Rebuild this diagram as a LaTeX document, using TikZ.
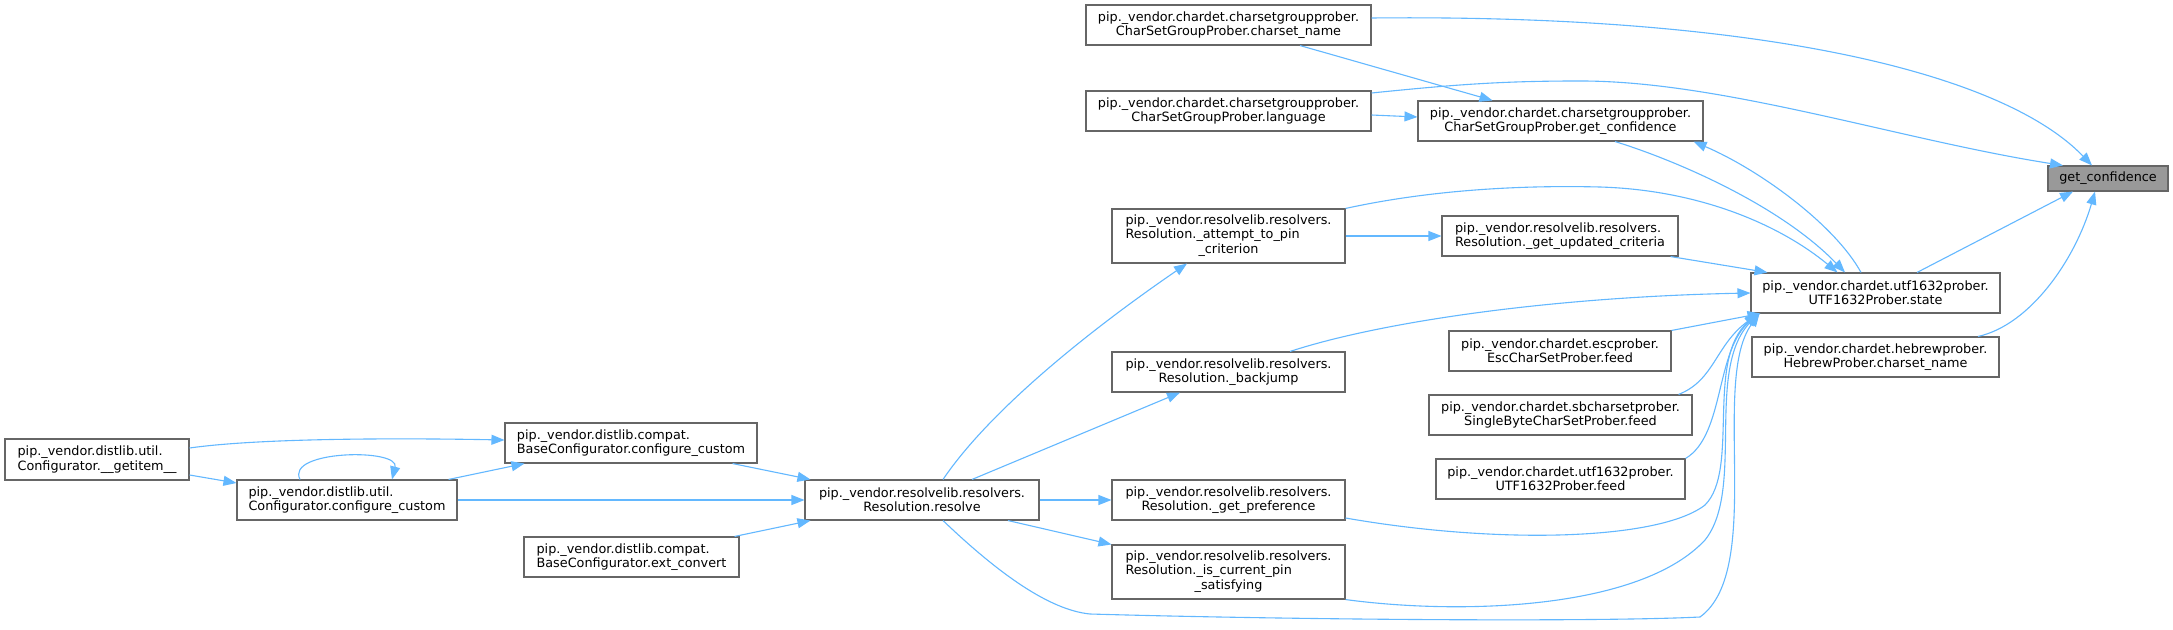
\documentclass[tikz,border=0pt]{standalone}
\usepackage{fontspec}
\setmainfont{DejaVu Sans}
\usetikzlibrary{arrows.meta}
\definecolor{edgeblue}{HTML}{63B8FF}
\definecolor{boxgrey}{HTML}{666666}
\definecolor{mainfill}{HTML}{999999}
\begin{document}
\begin{tikzpicture}[x=1pt,y=-1pt,
    fn/.style={draw=boxgrey,fill=white,line width=1.1pt,inner sep=0pt,minimum height=40pt,
      font=\fontsize{12.8}{14.3}\selectfont,align=center},
    fnl/.style={fn,align=left},
    call/.style={draw=edgeblue,line width=1.1pt,-{Triangle[length=13pt,width=10pt]}}]
\fill[white] (0,0) rectangle (2173,629);
\useasboundingbox (0,0) rectangle (2173,629);

% nodes, one column per rank
\node[fn,fill=mainfill,minimum width=120pt,minimum height=25pt] (getconf) at (2108,178.5) {get\_confidence};
\node[fn,minimum width=249pt] (state) at (1875.5,293) {pip.\_vendor.chardet.utf1632prober.\\UTF1632Prober.state};
\node[fn,minimum width=247pt] (hebrew) at (1875.5,357) {pip.\_vendor.chardet.hebrewprober.\\HebrewProber.charset\_name};
\node[fn,minimum width=285pt] (csgconf) at (1560.5,121) {pip.\_vendor.chardet.charsetgroupprober.\\CharSetGroupProber.get\_confidence};
\node[fnl,minimum width=236pt] (updcrit) at (1560,236) {pip.\_vendor.resolvelib.resolvers.\\Resolution.\_get\_updated\_criteria};
\node[fn,minimum width=222pt] (escfeed) at (1560,351) {pip.\_vendor.chardet.escprober.\\EscCharSetProber.feed};
\node[fn,minimum width=263pt] (sbfeed) at (1560.5,415) {pip.\_vendor.chardet.sbcharsetprober.\\SingleByteCharSetProber.feed};
\node[fn,minimum width=249pt] (utffeed) at (1560.5,479) {pip.\_vendor.chardet.utf1632prober.\\UTF1632Prober.feed};
\node[fn,minimum width=285pt] (cname) at (1228.5,25) {pip.\_vendor.chardet.charsetgroupprober.\\CharSetGroupProber.charset\_name};
\node[fn,minimum width=285pt] (lang) at (1228.5,111) {pip.\_vendor.chardet.charsetgroupprober.\\CharSetGroupProber.language};
\node[fn,minimum width=233pt,minimum height=54pt] (attempt) at (1228.5,236)
  {\begin{tabular}{@{}l@{}}pip.\_vendor.resolvelib.resolvers.\\Resolution.\_attempt\_to\_pin\\\multicolumn{1}{@{}c@{}}{\_criterion}\end{tabular}};
\node[fn,minimum width=233pt] (backjump) at (1228.5,372) {pip.\_vendor.resolvelib.resolvers.\\Resolution.\_backjump};
\node[fn,minimum width=233pt] (getpref) at (1228.5,500) {pip.\_vendor.resolvelib.resolvers.\\Resolution.\_get\_preference};
\node[fn,minimum width=233pt,minimum height=54pt] (iscur) at (1228.5,572)
  {\begin{tabular}{@{}l@{}}pip.\_vendor.resolvelib.resolvers.\\Resolution.\_is\_current\_pin\\\multicolumn{1}{@{}c@{}}{\_satisfying}\end{tabular}};
\node[fn,minimum width=234pt] (resolve) at (922,500) {pip.\_vendor.resolvelib.resolvers.\\Resolution.resolve};
\node[fnl,minimum width=252pt] (compatcc) at (631,443) {pip.\_vendor.distlib.compat.\\BaseConfigurator.configure\_custom};
\node[fnl,minimum width=215pt] (extconv) at (631.5,557) {pip.\_vendor.distlib.compat.\\BaseConfigurator.ext\_convert};
\node[fnl,minimum width=220pt] (utilcc) at (347,500) {pip.\_vendor.distlib.util.\\Configurator.configure\_custom};
\node[fnl,minimum width=184pt,minimum height=41pt] (getitem) at (97,459.5) {pip.\_vendor.distlib.util.\\Configurator.\_\_getitem\_\_};

% calls into get_confidence
\draw[call] ([yshift=7pt]cname.east) .. controls (1750,14) and (2000,70) .. ([xshift=-16pt]getconf.north);
\draw[call] ([yshift=18pt]lang.east) .. controls (1450,85) and (1500,81) .. (1577,81)
  .. controls (1720,80) and (1900,140) .. ([xshift=-45pt]getconf.north);
\draw[call] ([xshift=41.5pt]state.north) -- ([xshift=-35pt]getconf.south);
\draw[call] ([xshift=102.5pt]hebrew.north) .. controls (2030,325) and (2075,260) .. ([xshift=-13pt]getconf.south);
% charset group prober
\draw[call] ([xshift=71.5pt]cname.south) -- ([xshift=-68pt]csgconf.north);
\draw[call] ([yshift=-4pt]lang.east) -- ([yshift=4pt]csgconf.west);
\draw[call] ([xshift=54.5pt]csgconf.south) .. controls (1675,160) and (1780,205) .. ([xshift=-30.5pt]state.north);
\draw[call] ([xshift=-14.5pt]state.north) .. controls (1835,225) and (1760,170) .. ([xshift=-10pt]csgconf.south east);
% into UTF1632Prober.state
\draw[call] (attempt.north east) .. controls (1430,190) and (1520,185) .. (1600,187)
  .. controls (1700,190) and (1780,225) .. ([xshift=-38pt]state.north);
\draw[call] ([xshift=-8pt]updcrit.south east) -- ([xshift=-108pt]state.north);
\draw[call] ([xshift=61.5pt]backjump.north) .. controls (1380,322) and (1550,297) .. (state.west);
\draw[call] (escfeed.north east) -- ([xshift=-115pt]state.south);
\draw[call] ([xshift=-14pt]sbfeed.north east) .. controls (1715,380) and (1715,345) .. ([xshift=-117pt]state.south);
\draw[call] (utffeed.north east) .. controls (1725,435) and (1715,350) .. ([xshift=-116pt]state.south);
\draw[call] ([yshift=-18pt]getpref.east) .. controls (1500,545) and (1660,540) .. (1705,505)
  .. controls (1740,470) and (1705,360) .. ([xshift=-118pt]state.south);
\draw[call] (iscur.south east) .. controls (1460,615) and (1640,610) .. (1705,540)
  .. controls (1745,490) and (1705,370) .. ([xshift=-117pt]state.south);
\draw[call] ([xshift=21pt]resolve.south) .. controls (1000,575) and (1050,610) .. (1090,614)
  .. controls (1300,620) and (1600,622) .. (1700,617)
  .. controls (1765,570) and (1710,380) .. ([xshift=-116pt]state.south);
\draw[call] (attempt.east) -- (updcrit.west);
% resolve
\draw[call] ([xshift=21pt]resolve.north) .. controls (990,410) and (1090,330) .. ([xshift=-41.5pt]attempt.south);
\draw[call] ([xshift=50pt]resolve.north) -- ([xshift=-48.5pt]backjump.south);
\draw[call] (resolve.east) -- (getpref.west);
\draw[call] ([xshift=86pt]resolve.south) -- (iscur.north west);
% distlib configurators
\draw[call] ([yshift=11.5pt]getitem.east) .. controls (260,438) and (400,438) .. ([yshift=3pt]compatcc.west);
\draw[call] ([yshift=-15.5pt]getitem.east) -- ([yshift=17pt]utilcc.west);
\draw[call] ([xshift=-47pt]utilcc.north) .. controls (285,450) and (400,448) .. ([xshift=45pt]utilcc.north);
\draw[call] ([xshift=-9pt]utilcc.north east) -- ([xshift=20pt]compatcc.south west);
\draw[call] (utilcc.east) -- (resolve.west);
\draw[call] ([xshift=-25pt]compatcc.south east) -- ([xshift=6pt]resolve.north west);
\draw[call] ([xshift=-5pt]extconv.north east) -- ([xshift=6pt]resolve.south west);
\end{tikzpicture}
\end{document}
